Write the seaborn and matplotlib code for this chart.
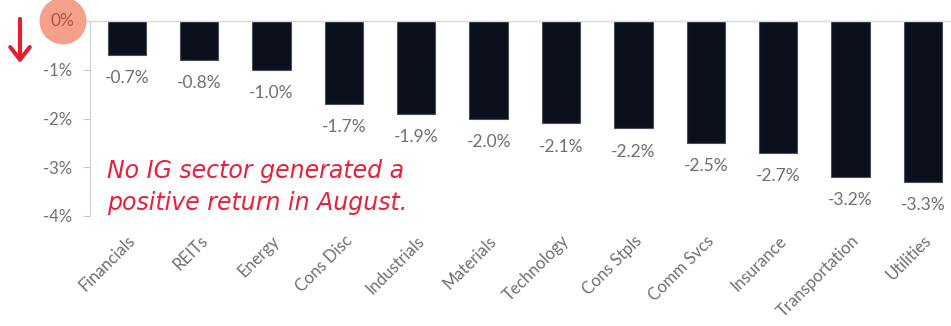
import matplotlib
matplotlib.use("Agg")
import matplotlib.pyplot as plt
from matplotlib.patches import Ellipse
import seaborn as sns
import pandas as pd

sectors = ["Financials", "REITs", "Energy", "Cons Disc", "Industrials", "Materials",
           "Technology", "Cons Stpls", "Comm Svcs", "Insurance", "Transportation", "Utilities"]
returns = [-0.7, -0.8, -1.0, -1.7, -1.9, -2.0, -2.1, -2.2, -2.5, -2.7, -3.2, -3.3]
y_ticks = [0, -1, -2, -3, -4]

df = pd.DataFrame({"sector": sectors, "ret": returns})

sns.set_theme(style="white")
plt.rcParams["font.family"] = ["Lato", "DejaVu Sans"]

W, H = 951, 326
fig = plt.figure(figsize=(W / 100, H / 100), dpi=100)
ax = fig.add_axes([90 / W, 1 - 216 / H, 1 - 90 / W, (216 - 21) / H])

sns.barplot(data=df, x="sector", y="ret", color="#0b101c", width=0.53,
            edgecolor="#4a4f5a", linewidth=0.8, saturation=1, ax=ax)

grey = "#707070"
for i, v in enumerate(returns):
    ax.annotate(f"{v:.1f}%", (i, v), xytext=(0, -11), textcoords="offset points",
                ha="center", va="top", fontsize=12.5, color=grey)

ax.set_ylim(-4, 0)
ax.set_xlim(-0.51, 11.39)
ax.set_yticks(y_ticks)
ax.set_yticklabels(["" if t == 0 else f"{t}%" for t in y_ticks], fontsize=12,
                   color=grey)
ax.set_xticks(range(len(sectors)))
ax.set_xticklabels(sectors, rotation=45, ha="right", rotation_mode="anchor",
                   fontsize=12, color=grey)
ax.set_xlabel("")
ax.set_ylabel("")
ax.tick_params(axis="y", left=True, length=5, width=0.8, color="#c8c8c8", pad=8)
ax.tick_params(axis="x", bottom=False, pad=6)

for s in ["right", "bottom"]:
    ax.spines[s].set_visible(False)
ax.spines["left"].set_color("#d0d0d0")
ax.spines["top"].set_color("#d9d9d9")
ax.spines["left"].set_linewidth(0.8)
ax.spines["top"].set_linewidth(1.0)

# highlighted zero label
fig.add_artist(Ellipse((63 / W, 1 - 21 / H), 47 / W, 47 / H, transform=fig.transFigure,
                       facecolor="#f5a08a", edgecolor="none", zorder=5))
fig.text(62 / W, 1 - 21 / H, "0%", ha="center", va="center", fontsize=12.5,
         color="#a8584a", zorder=6)

# downward arrow
ax.annotate("", xy=(20 / W, 1 - 63 / H), xytext=(20 / W, 1 - 19 / H),
            xycoords="figure fraction", textcoords="figure fraction",
            arrowprops=dict(arrowstyle="->,head_length=0.45,head_width=0.35",
                            mutation_scale=20, color="#e0202e", lw=3,
                            shrinkA=0, shrinkB=0))

fig.text(107 / W, 1 - 187 / H, "No IG sector generated a\npositive return in August.",
         ha="left", va="center", fontsize=17, color="#e8203a", style="italic",
         family=["DejaVu Sans"], linespacing=1.4)

fig.savefig("out.png", dpi=100, facecolor="white")
